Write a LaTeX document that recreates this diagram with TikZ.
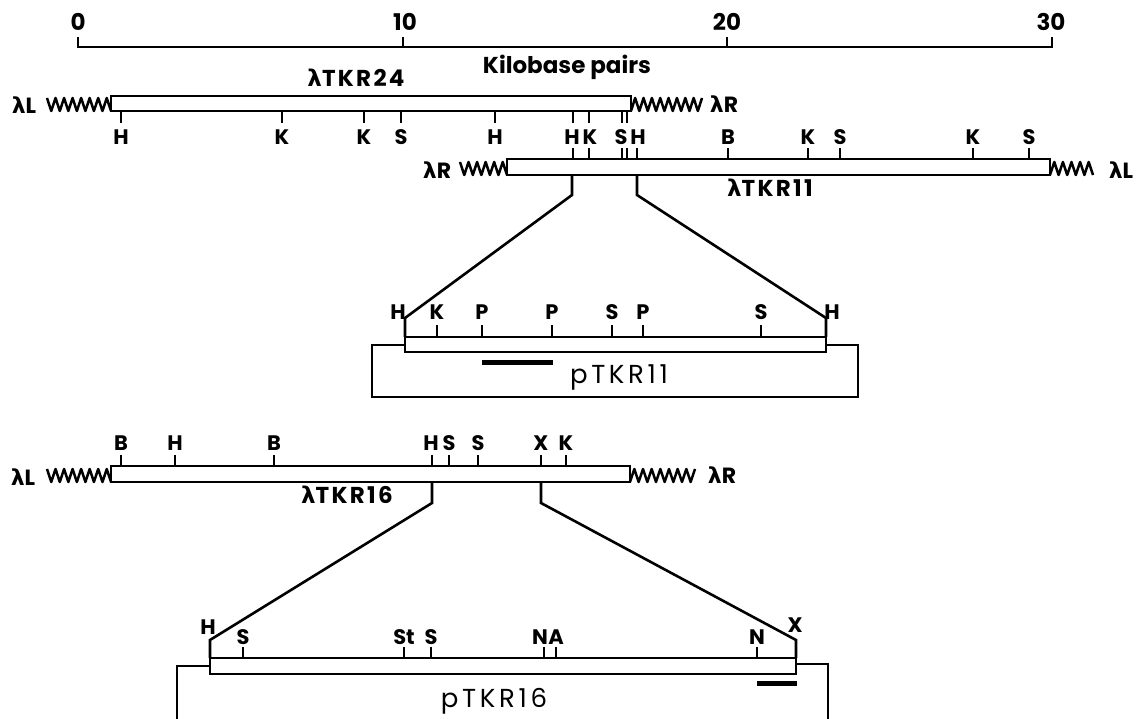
\documentclass[tikz,border=0pt]{standalone}
\usepackage{fontspec}
\setmainfont{Poppins}
\newfontfamily\greekfont{DejaVu Sans}
\newcommand{\lam}{{\greekfont λ}}
% wavy lambda arm: x-start, x-end, upper y, lower y
\newcommand{\lambdaarm}[4]{%
  \pgfmathtruncatemacro{\nseg}{round(abs(#2-#1)/4.2)}%
  \draw[line width=2.5pt,line join=round] (#1,#3)
    \foreach \i in {1,...,\nseg}{ -- ({#1+\i*(#2-#1)/\nseg},{isodd(\i) ? #4 : #3}) };}
\begin{document}
\begin{tikzpicture}[x=1pt,y=-1pt,
  every node/.style={inner sep=0pt,outer sep=0pt},
  ruler/.style={line width=2.8pt},
  outline/.style={draw,line width=2.6pt},
  clone/.style={draw,fill=white,line width=2.7pt},
  cut/.style={line width=2.4pt},
  link/.style={line width=2.6pt,line join=miter},
  probe/.style={line width=5pt},
  site/.style={font=\bfseries\fontsize{21}{21}\selectfont},
  digit/.style={font=\bfseries\fontsize{23}{23}\selectfont},
  arm/.style={font=\bfseries\fontsize{22}{22}\selectfont},
  phage/.style={anchor=base,font=\bfseries\fontsize{23}{23}\selectfont\addfontfeature{LetterSpace=10}},
  plasmid/.style={anchor=base,font=\fontsize{26}{26}\selectfont\addfontfeature{LetterSpace=14}}]
\useasboundingbox (0,0) rectangle (1143,719);

% ---------- kilobase scale ----------
\draw[ruler] (78,37) -- (78,47) -- (1052,47) -- (1052,37);
\foreach \x in {403,727} \draw[ruler] (\x,47) -- (\x,37);
\node[digit] (d0)  at (78,22)   {0};
\node[digit] (d10) at (405,22)  {10};
\node[digit] (d20) at (727,22)  {20};
\node[digit] (d30) at (1051,22) {30};
\node[anchor=base,font=\bfseries\fontsize{23}{23}\selectfont] (kb) at (567,74) {Kilobase pairs};

% ---------- lambda TKR24 ----------
\foreach \x in {121,282,364,401,495,573,589,622,627} \draw[cut] (\x,111) -- (\x,123);
\draw[clone] (111,96) rectangle (631,111);
\lambdaarm{47}{111}{98}{111}
\lambdaarm{631}{702}{111}{98}
\node[arm] (l24L) at (24,105)  {\lam L};
\node[arm] (l24R) at (724,104) {\lam R};
\node[phage] (n24) at (356,87) {\lam TKR24};

% ---------- lambda TKR11 ----------
\foreach \x in {573,589,622,627,637,728,808,840,973,1029} \draw[cut] (\x,159) -- (\x,148);
\draw[clone] (507,159) rectangle (1050,175);
\lambdaarm{460}{507}{162}{175}
\lambdaarm{1050}{1093}{175}{162}
\node[arm] (l11R) at (437,170)  {\lam R};
\node[arm] (l11L) at (1121,170) {\lam L};
\node[phage] (n11) at (770,197) {\lam TKR11};

% sites shared by the two overlapping clones
\foreach \x/\t [count=\i] in {121/H,282/K,364/K,401/S,495/H,572/H,590/K,621/S,638/H,728/B,808/K,840/S,973/K,1029/S}
  \node[site] (m\i) at (\x,137) {\t};

% ---------- subclone pTKR11 ----------
\coordinate (a1) at (572,175);
\coordinate (a2) at (572,195);
\coordinate (a3) at (405,318);
\coordinate (a4) at (405,337);
\coordinate (b1) at (637,175);
\coordinate (b2) at (637,195);
\coordinate (b3) at (826,318);
\coordinate (b4) at (826,337);
\draw[link] (a1) -- (a2) -- (a3) -- (a4);
\draw[link] (b1) -- (b2) -- (b3) -- (b4);
\draw[outline] (372,345) rectangle (858,397);
\foreach \x in {437,482,552,612,643,761} \draw[cut] (\x,337) -- (\x,325);
\draw[clone] (405,337) rectangle (826,352);
\foreach \x/\t [count=\i] in {398/H,437/K,482/P,552/P,612/S,643/P,761/S,832/H}
  \node[site] (p\i) at (\x,312) {\t};
\draw[probe] (482,362) -- (553,362);
\node[plasmid] (n11p) at (619,383) {pTKR11};

% ---------- lambda TKR16 ----------
\foreach \x in {121,175,274,432,449,478,541,566} \draw[cut] (\x,466) -- (\x,455);
\draw[clone] (111,466) rectangle (630,482);
\lambdaarm{47}{111}{469}{482}
\lambdaarm{630}{695}{482}{469}
\node[arm] (l16L) at (23,477)  {\lam L};
\node[arm] (l16R) at (722,475) {\lam R};
\node[phage] (n16) at (347,503) {\lam TKR16};
\foreach \x/\t [count=\i] in {121/B,175/H,274/B,431/H,449/S,478/S,541/X,566/K}
  \node[site] (q\i) at (\x,443) {\t};

% ---------- subclone pTKR16 ----------
\coordinate (c1) at (432,482);
\coordinate (c2) at (432,503);
\coordinate (c3) at (210,640);
\coordinate (c4) at (210,658);
\coordinate (e1) at (541,482);
\coordinate (e2) at (541,503);
\coordinate (e3) at (796,640);
\coordinate (e4) at (796,658);
\draw[link] (c1) -- (c2) -- (c3) -- (c4);
\draw[link] (e1) -- (e2) -- (e3) -- (e4);
\draw[line width=2.6pt] (177,721) -- (177,666) -- (210,666);
\draw[line width=2.6pt] (796,664) -- (828,664) -- (828,721);
\foreach \x in {243,404,431,544,556,757} \draw[cut] (\x,658) -- (\x,647);
\draw[clone] (210,658) rectangle (796,674);
\foreach \x/\t [count=\i] in {243/S,404/St,431/S,540/N,556/A,757/N}
  \node[site] (r\i) at (\x,637) {\t};
\node[site] (rH) at (208,627) {H};
\node[site] (rX) at (795,625) {X};
\draw[probe] (757,683) -- (797,683);
\node[plasmid] (n16p) at (494,707) {pTKR16};
\end{tikzpicture}
\end{document}
